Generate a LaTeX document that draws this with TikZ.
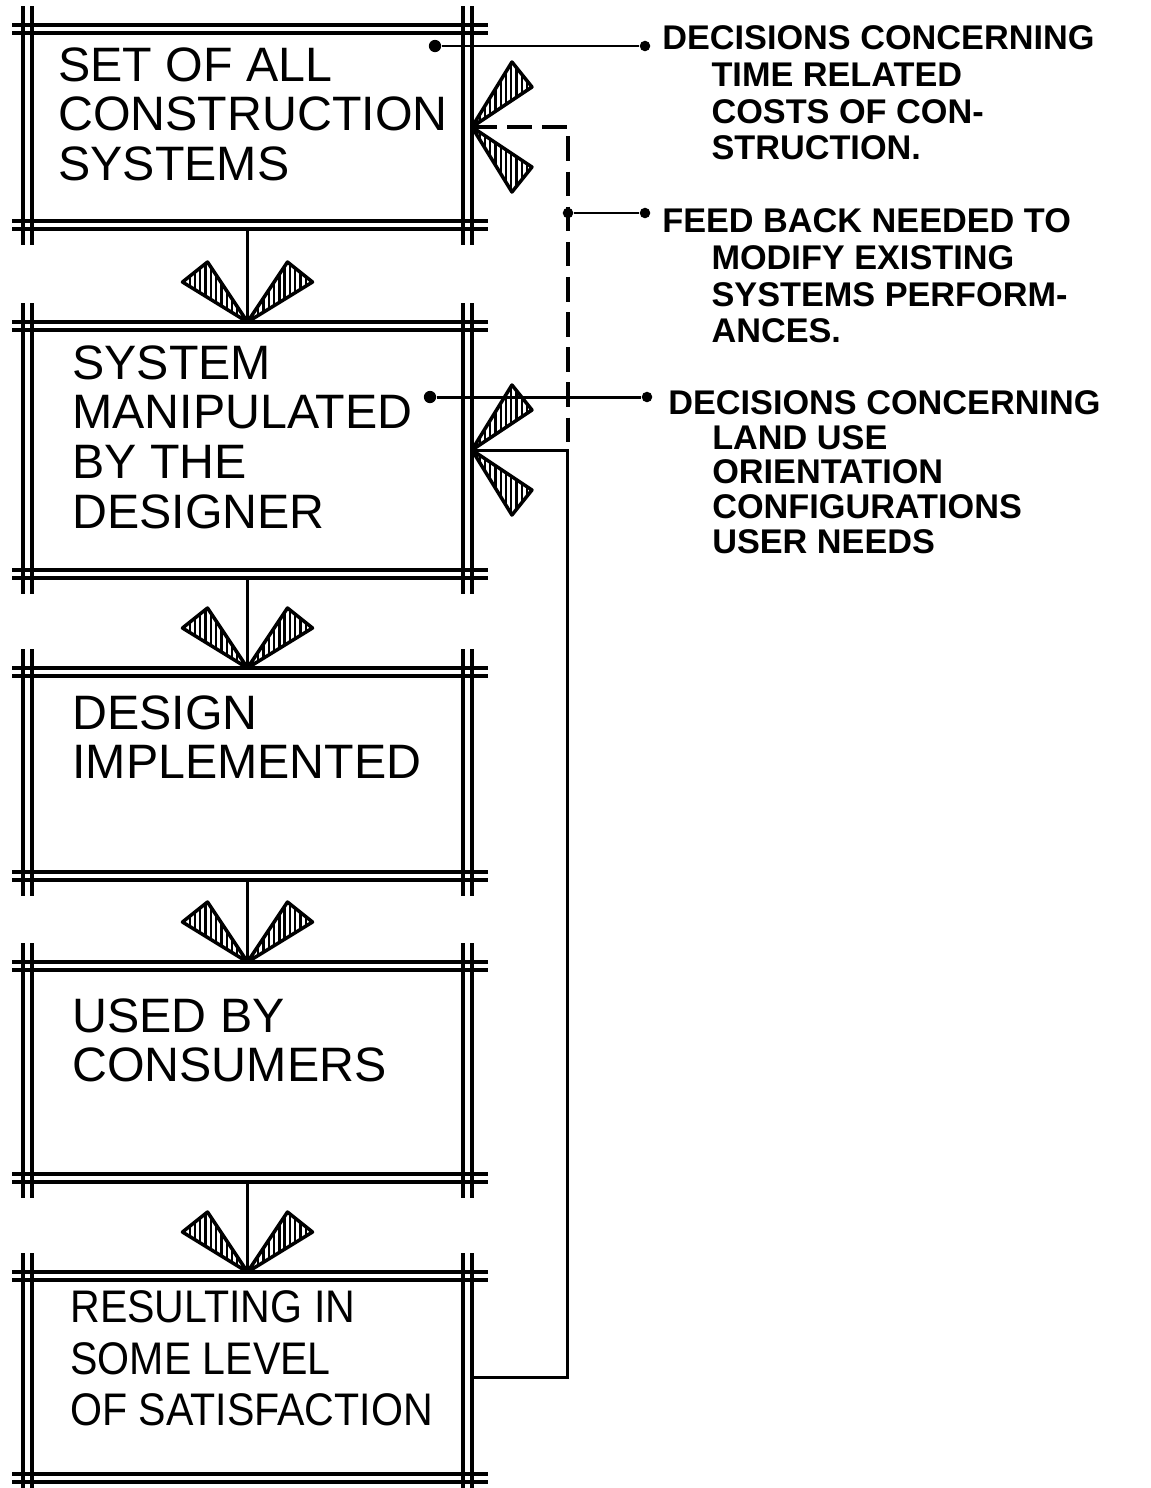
\documentclass[tikz,border=0pt]{standalone}
\usepackage{fontspec}
\setmainfont{Liberation Sans}
\newfontfamily\narrowfont[FakeStretch=0.9]{Liberation Sans}
\usetikzlibrary{calc,patterns.meta}

\tikzset{
  sysbox/.style={minimum width=8.98cm, inner sep=0, outer sep=0},
  frameline/.style={line width=2pt},
  boxtext/.style={anchor=north west, inner sep=0, align=left,
    font=\fontsize{27.5pt}{28.3pt}\selectfont},
  notetext/.style={anchor=north west, inner sep=0, align=left,
    font=\bfseries\fontsize{19.5pt}{21pt}\selectfont},
  conn/.style={line width=1.7pt},
  feedback/.style={line width=1.8pt, dash pattern=on 14pt off 6pt},
  dot/.style={circle, fill, inner sep=0, minimum size=6pt},
  barb/.style={line width=2pt, line join=round,
    pattern={Lines[angle=90,distance=3pt,line width=1.3pt]}}
}

% double lines round a box, running past the corners
\newcommand{\dblframe}[1]{%
  \foreach \d in {0,8} {
    \draw[frameline] ($(#1.north west)+(-11,\d)$) -- ($(#1.north east)+(16,\d)$);
    \draw[frameline] ($(#1.south west)+(-11,-\d)$) -- ($(#1.south east)+(16,-\d)$);
  }
  \foreach \d in {0,9} {
    \draw[frameline] ($(#1.north west)+(\d,-19)$) -- ($(#1.south west)+(\d,16)$);
    \draw[frameline] ($(#1.north east)+(-\d,-19)$) -- ($(#1.south east)+(-\d,16)$);
  }}
% hatched heads
\newcommand{\downhead}[1]{%
  \draw[barb] (#1) -- ($(#1)+(-65,-40)$) -- ($(#1)+(-40,-60)$) -- cycle;
  \draw[barb] (#1) -- ($(#1)+(65,-40)$) -- ($(#1)+(40,-60)$) -- cycle;}
\newcommand{\sidehead}[1]{%
  \draw[barb] (#1) -- ($(#1)+(40,-65)$) -- ($(#1)+(60,-40)$) -- cycle;
  \draw[barb] (#1) -- ($(#1)+(40,65)$) -- ($(#1)+(60,40)$) -- cycle;}
\newcommand{\noteindent}{\hspace*{28pt}}

\begin{document}
\begin{tikzpicture}[x=0.02cm, y=-0.02cm]
    \useasboundingbox (0,0) rectangle (1150,1488);
    \fill[white] (0,0) rectangle (1150,1488);
    \clip (0,0) rectangle (1150,1488);

    % boxes
    \node[sysbox, minimum height=4.08cm] (b1) at (247.5,127) {};
    \node[sysbox, minimum height=5.12cm] (b2) at (247.5,450) {};
    \node[sysbox, minimum height=4.24cm] (b3) at (247.5,774) {};
    \node[sysbox, minimum height=4.4cm] (b4) at (247.5,1072) {};
    \node[sysbox, minimum height=4.2cm] (b5) at (247.5,1377) {};
    \foreach \b in {b1,b2,b3,b4,b5} {\dblframe{\b}}

    % box texts
    \node[boxtext] (t1) at ($(b1.north west)+(35,22)$) {SET OF ALL\\CONSTRUCTION\\SYSTEMS};
    \node[boxtext] (t2) at ($(b2.north west)+(49,23)$) {SYSTEM\\MANIPULATED\\BY THE\\DESIGNER};
    \node[boxtext] (t3) at ($(b3.north west)+(49,27)$) {DESIGN\\IMPLEMENTED};
    \node[boxtext] (t4) at ($(b4.north west)+(49,36)$) {USED BY\\CONSUMERS};
    \node[boxtext, font=\narrowfont\fontsize{26pt}{29.5pt}\selectfont] (t5)
        at ($(b5.north west)+(47,18)$) {RESULTING IN\\SOME LEVEL\\OF SATISFACTION};

    % flow down
    \foreach \a/\b in {b1/b2,b2/b3,b3/b4,b4/b5} {
      \draw[conn] (\a.south) -- (\b.north);
      \downhead{\b.north}
    }

    % feed back
    \coordinate (fbtop) at ($(b1.east)+(96,0)$);
    \coordinate (fbmid) at ($(b2.east)+(96,0)$);
    \draw[conn] (b5.east) -| (fbmid) -- (b2.east);
    \draw[feedback] (b1.east) -- (fbtop) -- (fbmid);
    \sidehead{b1.east}
    \sidehead{b2.east}

    % notes
    \node[dot, minimum size=7pt] (d1) at (435,46) {};
    \node[dot] (e1) at (645,46) {};
    \node[dot] (d2) at (568,213) {};
    \node[dot] (e2) at (645,213) {};
    \node[dot, minimum size=7pt] (d3) at (430,397) {};
    \node[dot] (e3) at (647,397) {};
    \draw[conn] (d1) -- (e1);
    \draw[conn] (d2) -- (e2);
    \draw[conn] (d3) -- (e3);
    \node[notetext] (n1) at (662,25) {DECISIONS CONCERNING\\\noteindent TIME RELATED\\\noteindent COSTS OF CON-\\\noteindent STRUCTION.};
    \node[notetext] (n2) at (662,208) {FEED BACK NEEDED TO\\\noteindent MODIFY EXISTING\\\noteindent SYSTEMS PERFORM-\\\noteindent ANCES.};
    \node[notetext, font=\bfseries\fontsize{19.5pt}{19.8pt}\selectfont] (n3) at (668,390) {DECISIONS CONCERNING\\\hspace*{25pt}LAND USE\\\hspace*{25pt}ORIENTATION\\\hspace*{25pt}CONFIGURATIONS\\\hspace*{25pt}USER NEEDS};
\end{tikzpicture}
\end{document}
